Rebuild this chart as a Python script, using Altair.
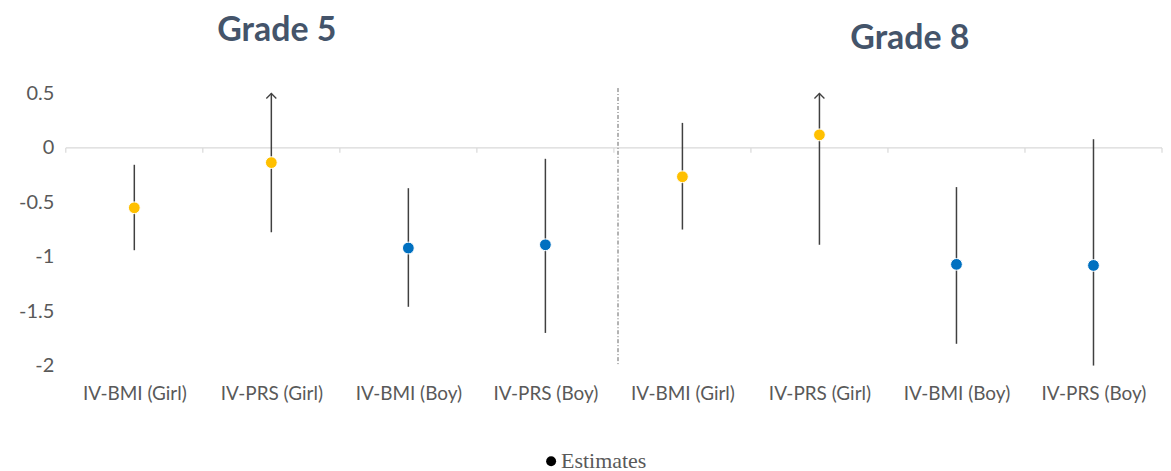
import altair as alt
import pandas as pd

# ---- data ----
categories = ["IV-BMI (Girl)", "IV-PRS (Girl)", "IV-BMI (Boy)", "IV-PRS (Boy)",
              "IV-BMI (Girl)", "IV-PRS (Girl)", "IV-BMI (Boy)", "IV-PRS (Boy)"]
grade = ["Grade 5"] * 4 + ["Grade 8"] * 4
sex = ["Girl", "Girl", "Boy", "Boy", "Girl", "Girl", "Boy", "Boy"]
estimates = [-0.55, -0.135, -0.92, -0.89, -0.265, 0.12, -1.07, -1.08]
ci_low = [-0.94, -0.775, -1.46, -1.70, -0.75, -0.89, -1.80, -2.00]
ci_high = [-0.155, 0.5, -0.37, -0.10, 0.23, 0.5, -0.36, 0.08]
truncated = [False, True, False, False, False, True, False, False]

panel_titles = ["Grade 5", "Grade 8"]
title_pos = [1.54, 6.16]
title_y = [-63, -55]

y_ticks = [0.5, 0, -0.5, -1, -1.5, -2]
boundaries = list(range(0, 9))

idx = [i + 0.5 for i in range(len(categories))]
df = pd.DataFrame({"idx": idx, "cat": categories, "grade": grade, "sex": sex,
                   "est": estimates, "lo": ci_low, "hi": ci_high, "trunc": truncated})
arrows = df[df["trunc"]]
titles = pd.DataFrame({"t": panel_titles, "x": title_pos, "y": title_y})
bounds = pd.DataFrame({"b": boundaries, "y0": 0.0, "y1": -0.045})
zero = pd.DataFrame({"x0": [0], "x1": [8], "y": [0.0]})
divider = pd.DataFrame({"x": [4.03], "y0": [0.55], "y1": [-2.0]})
legend_df = pd.DataFrame({"label": ["Estimates"]})

W, H = 1100, 273
label_expr = "[" + ",".join("'%s'" % c for c in categories) + "][floor(datum.value)]"

xscale = alt.Scale(domain=[0, 8], nice=False, zero=False)
yscale = alt.Scale(domain=[-2, 0.5], nice=False, zero=False)

base = alt.Chart(df)

x_axis = alt.Axis(values=idx, labelExpr=label_expr, ticks=False, domain=False, grid=False,
                  labelFont="Lato", labelFontSize=19, labelColor="#595959", labelPadding=19,
                  title=None)
y_axis = alt.Axis(values=y_ticks, labelExpr="'' + datum.value", ticks=False, domain=False,
                  grid=False, labelFont="Lato", labelFontSize=20, labelColor="#595959",
                  labelPadding=12, title=None, minExtent=58, maxExtent=58)

zero_line = alt.Chart(zero).mark_rule(color="#D9D9D9", strokeWidth=1.2).encode(
    x=alt.X("x0:Q", scale=xscale, axis=x_axis), x2="x1:Q",
    y=alt.Y("y:Q", scale=yscale, axis=y_axis))

tick_marks = alt.Chart(bounds).mark_rule(color="#D9D9D9", strokeWidth=1.2).encode(
    x=alt.X("b:Q", scale=xscale), y=alt.Y("y0:Q", scale=yscale), y2="y1:Q")

div_line = alt.Chart(divider).mark_rule(color="#555555", strokeWidth=0.9,
                                        strokeDash=[4, 2, 1, 2]).encode(
    x=alt.X("x:Q", scale=xscale), y=alt.Y("y0:Q", scale=yscale), y2="y1:Q")

bars = base.mark_rule(color="#404040", strokeWidth=1.5).encode(
    x=alt.X("idx:Q", scale=xscale), y=alt.Y("lo:Q", scale=yscale), y2="hi:Q")

heads = alt.Chart(arrows).mark_point(shape="M -1 1 L 0 0 L 1 1", filled=False,
                                     color="#404040", strokeWidth=1.3, size=100,
                                     opacity=1).encode(
    x=alt.X("idx:Q", scale=xscale), y=alt.Y("hi:Q", scale=yscale))

points = base.mark_circle(size=140, opacity=1, stroke="white", strokeWidth=1).encode(
    x=alt.X("idx:Q", scale=xscale), y=alt.Y("est:Q", scale=yscale),
    color=alt.Color("sex:N", scale=alt.Scale(domain=["Girl", "Boy"],
                                             range=["#FFC000", "#0070C0"]), legend=None))

title_text = alt.Chart(titles).mark_text(font="Lato", fontSize=34, fontWeight="bold",
                                         color="#44546A", baseline="middle").encode(
    x=alt.X("x:Q", scale=xscale), y=alt.Y("y:Q", scale=None), text="t:N")

leg_dot = alt.Chart(legend_df).mark_circle(size=100, color="black", opacity=1).encode(
    x=alt.value(487), y=alt.value(369))
leg_text = alt.Chart(legend_df).mark_text(font="Liberation Serif", fontSize=22,
                                          color="#595959", align="left",
                                          baseline="middle").encode(
    x=alt.value(497), y=alt.value(369), text="label:N")

chart = alt.layer(zero_line, tick_marks, div_line, bars, heads, points, title_text,
                  leg_dot, leg_text).properties(
    width=W, height=H, background="white",
    padding={"left": 0, "top": 5, "right": 0, "bottom": 0}
).configure_view(stroke="transparent", strokeWidth=0).configure_axis(grid=False)

chart.save("out.html", embed_options={"renderer": "svg", "actions": False})
